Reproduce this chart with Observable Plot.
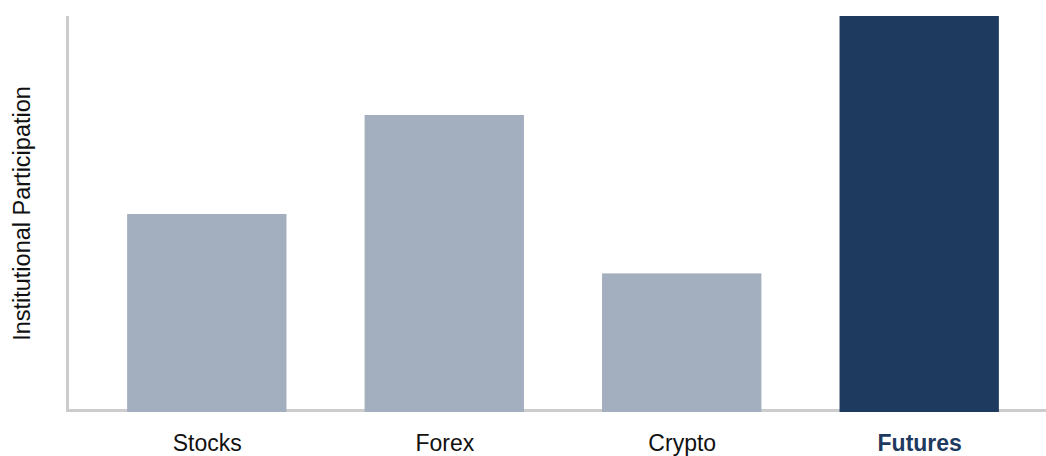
<!DOCTYPE html>
<html>
<head>
<meta charset="utf-8">
<script src="https://cdn.jsdelivr.net/npm/d3@7"></script>
<script src="https://cdn.jsdelivr.net/npm/@observablehq/plot@0.6"></script>
<style>
  html, body { margin: 0; padding: 0; background: #fff; }
  svg { display: block; }
</style>
</head>
<body>
<div id="chart"></div>
<script>
const markets = ["Stocks", "Forex", "Crypto", "Futures"];
const participation = [50, 75, 35, 100];
const highlight = ["Futures"];
const yLabel = "Institutional Participation";

const data = markets.map((m, i) => ({market: m, value: participation[i], hl: highlight.includes(m)}));

const light = "#a3aebf";
const dark = "#1f3a5f";
const axisColor = "#cccccc";

// axis lines drawn from the frame dimensions
function axisLines(index, scales, values, dims) {
  const ns = "http://www.w3.org/2000/svg";
  const g = document.createElementNS(ns, "g");
  const y0 = scales.y(0);
  const left = dims.marginLeft - 0.5;
  const lines = [
    [left, dims.marginTop, left, y0],
    [left - 1.5, y0 - 1.5, dims.width, y0 - 1.5]
  ];
  for (const [x1, y1, x2, y2] of lines) {
    const l = document.createElementNS(ns, "line");
    l.setAttribute("x1", x1); l.setAttribute("y1", y1);
    l.setAttribute("x2", x2); l.setAttribute("y2", y2);
    l.setAttribute("stroke", axisColor);
    l.setAttribute("stroke-width", 3);
    g.append(l);
  }
  return g;
}

const chart = Plot.plot({
  width: 1046,
  height: 456,
  marginLeft: 68,
  marginRight: 0,
  marginTop: 16,
  marginBottom: 44,
  style: {fontFamily: "'Liberation Sans', Arial, sans-serif", background: "#fff"},
  x: {domain: markets, range: [68, 1058], paddingInner: 0.329, paddingOuter: 0.249, round: false, axis: null},
  y: {domain: [0, 100], axis: null},
  marks: [
    axisLines,
    Plot.barY(data, {x: "market", y: "value", fill: d => d.hl ? dark : light}),
    Plot.text(data.filter(d => !d.hl), {
      x: "market", y: 0, text: "market", dy: 31,
      fontSize: 23, fill: "#111"
    }),
    Plot.text(data.filter(d => d.hl), {
      x: "market", y: 0, text: "market", dy: 31,
      fontSize: 23, fontWeight: "bold", fill: dark
    }),
    Plot.text([yLabel], {frameAnchor: "left", textAnchor: "middle", dx: -46, dy: -1, rotate: -90, fontSize: 23.5, fill: "#111"})
  ]
});
document.getElementById("chart").append(chart);
</script>
</body>
</html>
